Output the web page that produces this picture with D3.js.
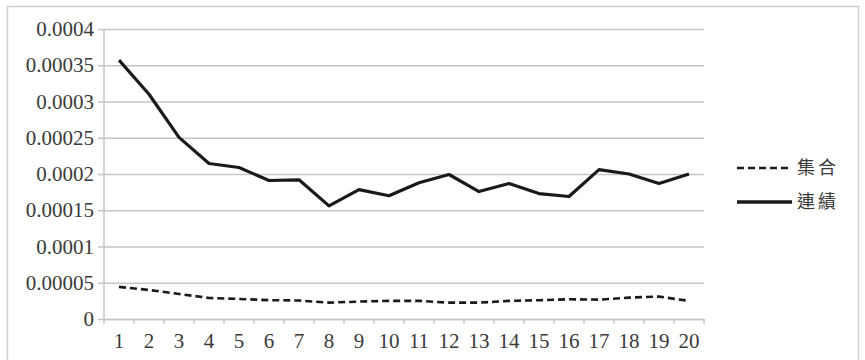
<!DOCTYPE html>
<html>
<head>
<meta charset="utf-8">
<script src="https://cdn.jsdelivr.net/npm/d3@7"></script>
<style>
  body { margin: 0; background: #fff; }
  svg { display: block; }
</style>
</head>
<body>
<div id="chart"></div>
<script>
// categories and series
const categories = d3.range(1, 21).map(String);
const shuugou = [0.0000443, 0.00004, 0.0000346, 0.000029, 0.0000277, 0.000026, 0.0000255, 0.0000226, 0.000024, 0.000025,
                 0.000025, 0.0000226, 0.0000226, 0.000025, 0.0000259, 0.0000272, 0.0000267, 0.0000295, 0.0000309, 0.000025];
const renzoku = [0.000357, 0.00031, 0.0002505, 0.0002145, 0.000209, 0.000191, 0.000192, 0.000156, 0.0001785, 0.00017,
                 0.000188, 0.0001993, 0.0001758, 0.000187, 0.000173, 0.000169, 0.000206, 0.0002, 0.000187, 0.0002];
const yTicks = [0, 0.00005, 0.0001, 0.00015, 0.0002, 0.00025, 0.0003, 0.00035, 0.0004];
const yTickLabels = ["0", "0.00005", "0.0001", "0.00015", "0.0002", "0.00025", "0.0003", "0.00035", "0.0004"];
const seriesNames = ["集合", "連績"];

const W = 865, H = 360;
const margin = { top: 29, right: 161, bottom: 41, left: 104 },
    width = W - margin.left - margin.right,
    height = H - margin.top - margin.bottom;

const svg = d3.select("#chart")
    .append("svg")
    .attr("width", W)
    .attr("height", H);

// outer chart frame
svg.append("rect")
    .attr("x", 7.5)
    .attr("y", 6.5)
    .attr("width", 851)
    .attr("height", 370)
    .attr("fill", "#fff")
    .attr("stroke", "#cfcfcf")
    .attr("stroke-width", 1.5);

const g = svg.append("g")
    .attr("transform", "translate(" + margin.left + "," + margin.top + ")");

// scales
const x = d3.scaleBand()
    .domain(categories)
    .range([0, width]);
const y = d3.scaleLinear()
    .domain([0, 0.0004])
    .range([height, 0]);

// gridlines + y axis
const yAxis = g.append("g")
    .call(d3.axisLeft(y).tickValues(yTicks).tickSize(-width).tickPadding(10)
        .tickFormat((d, i) => yTickLabels[i]))
    .attr("font-family", null)
    .attr("font-size", null);
yAxis.select(".domain").remove();
yAxis.selectAll(".tick line")
    .attr("x1", -6)
    .attr("stroke", "#c6c6c6")
    .attr("stroke-width", 1.5);
yAxis.selectAll(".tick text")
    .attr("fill", "#3a3a3a")
    .attr("font-family", "Liberation Serif")
    .attr("font-size", 21);

// vertical axis line
g.append("line")
    .attr("x1", 0).attr("x2", 0)
    .attr("y1", 0).attr("y2", height)
    .attr("stroke", "#c6c6c6")
    .attr("stroke-width", 1.5);

// x axis, ticks between categories
const xAxis = g.append("g")
    .attr("transform", "translate(0," + height + ")")
    .call(d3.axisBottom(x).tickSize(0).tickPadding(14))
    .attr("font-family", null)
    .attr("font-size", null);
xAxis.select(".domain")
    .attr("stroke", "#c6c6c6")
    .attr("stroke-width", 1.5);
xAxis.selectAll(".tick text")
    .attr("fill", "#3a3a3a")
    .attr("font-family", "Liberation Serif")
    .attr("font-size", 21);
g.append("g")
    .selectAll("line")
    .data(categories.concat(["end"]))
    .join("line")
    .attr("x1", (d, i) => i * x.bandwidth())
    .attr("x2", (d, i) => i * x.bandwidth())
    .attr("y1", height)
    .attr("y2", height + 5)
    .attr("stroke", "#c6c6c6")
    .attr("stroke-width", 1.5);

// lines
const line = d3.line()
    .x((d, i) => x(categories[i]) + x.bandwidth() / 2)
    .y(d => y(d));

g.append("path")
    .datum(shuugou)
    .attr("fill", "none")
    .attr("stroke", "#1a1a1a")
    .attr("stroke-width", 2.6)
    .attr("stroke-dasharray", "7,4")
    .attr("d", line);

g.append("path")
    .datum(renzoku)
    .attr("fill", "none")
    .attr("stroke", "#1a1a1a")
    .attr("stroke-width", 3.2)
    .attr("stroke-linejoin", "round")
    .attr("d", line);

// legend
const legend = svg.selectAll(".legend")
    .data(seriesNames)
    .join("g")
    .attr("class", "legend")
    .attr("transform", (d, i) => "translate(737," + (168 + i * 34) + ")");

legend.append("line")
    .attr("x1", 0)
    .attr("x2", 55)
    .attr("stroke", "#1a1a1a")
    .attr("stroke-width", (d, i) => i === 0 ? 2.6 : 3.4)
    .attr("stroke-dasharray", (d, i) => i === 0 ? "7,4" : null);

legend.append("text")
    .attr("x", 60)
    .attr("dy", "0.35em")
    .attr("fill", "#3a3a3a")
    .attr("font-family", "Noto Sans CJK TC")
    .attr("font-size", 18)
    .style("letter-spacing", "3px")
    .text(d => d);
</script>
</body>
</html>
